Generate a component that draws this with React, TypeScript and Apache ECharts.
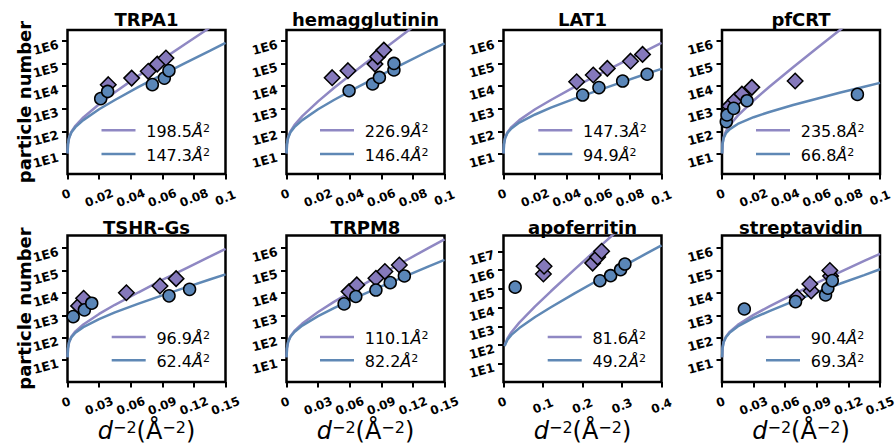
import React, { useEffect, useRef } from 'react';
import * as echarts from 'echarts';

// ---------- data (y values are log10(particle number)) ----------
const panelTitles = ['TRPA1', 'hemagglutinin', 'LAT1', 'pfCRT', 'TSHR-Gs', 'TRPM8', 'apoferritin', 'streptavidin'];
const purpleB = ['198.5', '226.9', '147.3', '235.8', '96.9', '110.1', '81.6', '90.4'];
const blueB = ['147.3', '146.4', '94.9', '66.8', '62.4', '82.2', '49.2', '69.3'];

const xTicks01 = [0, 0.02, 0.04, 0.06, 0.08, 0.1];
const xTicks015 = [0, 0.03, 0.06, 0.09, 0.12, 0.15];
const xTicks04 = [0, 0.1, 0.2, 0.3, 0.4];
const yTicks6 = [1, 2, 3, 4, 5, 6];
const yTicks7 = [1, 2, 3, 4, 5, 6, 7];

// fitted curves, sampled points
const fitX01 = [0.00005, 0.0003, 0.001, 0.0025, 0.005, 0.01, 0.02, 0.03, 0.045, 0.06, 0.075, 0.09, 0.1];
const fitX015 = [0.000075, 0.00045, 0.0015, 0.00375, 0.0075, 0.015, 0.03, 0.045, 0.0675, 0.09, 0.1125, 0.135, 0.15];
const fitX04 = [0.003, 0.004, 0.01, 0.02, 0.04, 0.08, 0.12, 0.18, 0.24, 0.3, 0.36, 0.4];

const trpa1Purple = [1.03, 1.43, 1.72, 1.99, 2.25, 2.62, 3.2, 3.73, 4.47, 5.19, 5.89, 6.59, 7.05];
const trpa1Blue = [1.03, 1.43, 1.71, 1.96, 2.19, 2.5, 2.98, 3.39, 3.97, 4.51, 5.05, 5.57, 5.92];
const hemaPurple = [1.03, 1.43, 1.73, 2.0, 2.28, 2.68, 3.33, 3.92, 4.75, 5.56, 6.36, 7.15, 7.67];
const hemaBlue = [1.03, 1.43, 1.71, 1.96, 2.19, 2.5, 2.98, 3.39, 3.96, 4.5, 5.03, 5.56, 5.9];
const lat1Purple = [1.03, 1.43, 1.71, 1.96, 2.19, 2.5, 2.98, 3.39, 3.97, 4.51, 5.05, 5.57, 5.92];
const lat1Blue = [1.03, 1.43, 1.7, 1.93, 2.13, 2.39, 2.75, 3.05, 3.45, 3.82, 4.18, 4.54, 4.77];
const pfcrtPurple = [1.03, 1.44, 1.73, 2.01, 2.29, 2.7, 3.37, 3.98, 4.84, 5.68, 6.51, 7.33, 7.87];
const pfcrtBlue = [1.03, 1.42, 1.7, 1.92, 2.1, 2.33, 2.63, 2.86, 3.17, 3.45, 3.72, 3.98, 4.15];
const tshrPurple = [1.12, 1.52, 1.8, 2.05, 2.28, 2.59, 3.06, 3.47, 4.03, 4.58, 5.1, 5.62, 5.97];
const tshrBlue = [1.12, 1.51, 1.79, 2.02, 2.22, 2.47, 2.83, 3.13, 3.52, 3.89, 4.25, 4.6, 4.83];
const trpm8Purple = [1.12, 1.52, 1.8, 2.06, 2.3, 2.63, 3.15, 3.6, 4.23, 4.84, 5.43, 6.02, 6.4];
const trpm8Blue = [1.12, 1.52, 1.8, 2.04, 2.25, 2.54, 2.96, 3.32, 3.82, 4.29, 4.74, 5.19, 5.48];
const apoPurple = [1.97, 2.05, 2.36, 2.69, 3.2, 4.07, 4.87, 6.04, 7.18, 8.31, 9.42, 10.16];
const apoBlue = [1.95, 2.02, 2.29, 2.55, 2.91, 3.5, 4.02, 4.76, 5.47, 6.17, 6.86, 7.31];
const strepPurple = [1.12, 1.52, 1.8, 2.04, 2.27, 2.57, 3.02, 3.4, 3.94, 4.45, 4.94, 5.43, 5.75];
const strepBlue = [1.12, 1.51, 1.79, 2.02, 2.23, 2.5, 2.88, 3.19, 3.62, 4.03, 4.42, 4.8, 5.06];

// measured points [d^-2, log10 N]
const trpa1Diamonds = [[0.0258, 4.07], [0.0406, 4.36], [0.0511, 4.66], [0.0568, 4.98], [0.0623, 5.25]];
const trpa1Circles = [[0.021, 3.45], [0.0254, 3.77], [0.0537, 4.07], [0.0613, 4.36], [0.0642, 4.69]];
const hemaDiamonds = [[0.0289, 4.38], [0.0389, 4.69], [0.056, 4.98], [0.0577, 5.31], [0.0616, 5.6]];
const hemaCircles = [[0.0396, 3.8], [0.0545, 4.1], [0.0588, 4.39], [0.068, 4.72], [0.068, 5.01]];
const lat1Diamonds = [[0.0463, 4.2], [0.0568, 4.5], [0.0657, 4.79], [0.0804, 5.11], [0.088, 5.41]];
const lat1Circles = [[0.0501, 3.61], [0.0604, 3.94], [0.0754, 4.23], [0.0909, 4.53]];
const pfcrtDiamonds = [[0.0048, 3.12], [0.0084, 3.39], [0.0126, 3.65], [0.0189, 3.95], [0.0463, 4.23]];
const pfcrtCircles = [[0.0027, 2.43], [0.0032, 2.73], [0.0074, 3.02], [0.0158, 3.36], [0.0857, 3.64]];
const tshrDiamonds = [[0.0105, 3.42], [0.0153, 3.76], [0.0559, 4.01], [0.0878, 4.31], [0.1031, 4.64]];
const tshrCircles = [[0.0054, 2.94], [0.016, 3.24], [0.023, 3.54], [0.0964, 3.87], [0.1159, 4.16]];
const trpm8Diamonds = [[0.0594, 4.06], [0.0667, 4.36], [0.0849, 4.66], [0.0934, 4.96], [0.1071, 5.25]];
const trpm8Circles = [[0.0547, 3.51], [0.0658, 3.84], [0.0849, 4.13], [0.0985, 4.46], [0.1119, 4.76]];
const apoDiamonds = [[0.101, 5.79], [0.1027, 6.2], [0.2257, 6.37], [0.2383, 6.69], [0.2484, 7.0]];
const apoCircles = [[0.0295, 5.09], [0.2442, 5.43], [0.2712, 5.7], [0.2964, 6.02], [0.3074, 6.32]];
const strepDiamonds = [[0.0714, 3.81], [0.0847, 4.09], [0.0834, 4.4], [0.1031, 4.76], [0.1024, 5.0]];
const strepCircles = [[0.0212, 3.28], [0.0698, 3.61], [0.0983, 3.91], [0.1005, 4.21], [0.1047, 4.55]];

// y-axis ranges (log10 units)
const yRangeRow1 = [0.115, 6.49];
const yRangeRow2 = [0.015, 6.57];
const yRangeApo = [0.04, 7.84];

// ---------- layout / style ----------
const FONT = '"DejaVu Sans", sans-serif';
const PURPLE_LINE = '#8f88c3';
const BLUE_LINE = '#5f88b5';
const PURPLE_MARK = '#8579bb';
const BLUE_MARK = '#5a86b8';
const colLeft = [67.5, 286.5, 503.5, 722];
const rowTop = [30, 235.5];
const rowH = [144, 146.5];
const plotW = 158;
const legendStart = [101.5, 320, 538.3, 756, 111.7, 320, 547.7, 766];
const legendRowY = [[130.3, 154], [337, 360.3]];
const titleY = [19, 227];

const panels = [
  { diamonds: trpa1Diamonds, circles: trpa1Circles, purple: trpa1Purple, blue: trpa1Blue, fitX: fitX01, xTicks: xTicks01, yTicks: yTicks6, yRange: yRangeRow1 },
  { diamonds: hemaDiamonds, circles: hemaCircles, purple: hemaPurple, blue: hemaBlue, fitX: fitX01, xTicks: xTicks01, yTicks: yTicks6, yRange: yRangeRow1 },
  { diamonds: lat1Diamonds, circles: lat1Circles, purple: lat1Purple, blue: lat1Blue, fitX: fitX01, xTicks: xTicks01, yTicks: yTicks6, yRange: yRangeRow1 },
  { diamonds: pfcrtDiamonds, circles: pfcrtCircles, purple: pfcrtPurple, blue: pfcrtBlue, fitX: fitX01, xTicks: xTicks01, yTicks: yTicks6, yRange: yRangeRow1 },
  { diamonds: tshrDiamonds, circles: tshrCircles, purple: tshrPurple, blue: tshrBlue, fitX: fitX015, xTicks: xTicks015, yTicks: yTicks6, yRange: yRangeRow2 },
  { diamonds: trpm8Diamonds, circles: trpm8Circles, purple: trpm8Purple, blue: trpm8Blue, fitX: fitX015, xTicks: xTicks015, yTicks: yTicks6, yRange: yRangeRow2 },
  { diamonds: apoDiamonds, circles: apoCircles, purple: apoPurple, blue: apoBlue, fitX: fitX04, xTicks: xTicks04, yTicks: yTicks7, yRange: yRangeApo },
  { diamonds: strepDiamonds, circles: strepCircles, purple: strepPurple, blue: strepBlue, fitX: fitX015, xTicks: xTicks015, yTicks: yTicks6, yRange: yRangeRow2 },
];

function buildOption() {
  const lab = { fontFamily: FONT, fontSize: 12, fontWeight: 'bold', color: '#000' };
  const grids: any[] = [];
  const xAxes: any[] = [];
  const yAxes: any[] = [];
  const series: any[] = [];
  const elements: any[] = [];

  panels.forEach((p, i) => {
    const col = i % 4;
    const row = Math.floor(i / 4);
    const left = colLeft[col];
    const top = rowTop[row];
    const h = rowH[row];
    grids.push({
      left, top, width: plotW, height: h, show: true,
      borderColor: '#000', borderWidth: 2.5, backgroundColor: 'transparent',
      containLabel: false, outerBoundsMode: 'none',
    });
    xAxes.push({
      gridIndex: i, type: 'value', min: 0, max: p.xTicks[p.xTicks.length - 1],
      axisLine: { show: false },
      splitLine: { show: false },
      axisTick: { show: true, customValues: p.xTicks, length: 5.5, lineStyle: { color: '#000', width: 2 } },
      axisLabel: {
        customValues: p.xTicks,
        interval: 0,
        showMinLabel: true, showMaxLabel: true, hideOverlap: false,
        formatter: (v: number) => (v === 0 ? '{z|0}' : '{t|' + v + '}'),
        rotate: 22, align: 'center', verticalAlign: 'middle', margin: 24,
        rich: { z: { ...lab, padding: [0, 0, 8, 0] }, t: { ...lab } },
      },
    });
    yAxes.push({
      gridIndex: i, type: 'value', min: p.yRange[0], max: p.yRange[1],
      axisLine: { show: false },
      splitLine: { show: false },
      axisTick: { show: true, customValues: p.yTicks, length: 5.5, lineStyle: { color: '#000', width: 2 } },
      axisLabel: {
        customValues: p.yTicks,
        interval: 0,
        showMinLabel: true, showMaxLabel: true, hideOverlap: false,
        formatter: (v: number) => '{y|1E' + v + '}',
        rotate: 15, margin: 10,
        rich: { y: { ...lab, fontSize: 12.5, padding: [6, 0, 0, 0] } },
      },
    });
    const purpleData = p.fitX.map((x, k) => [x, p.purple[k]]);
    const blueData = p.fitX.map((x, k) => [x, p.blue[k]]);
    series.push({
      type: 'line', xAxisIndex: i, yAxisIndex: i, data: purpleData, symbol: 'none', clip: true, z: 2,
      lineStyle: { color: PURPLE_LINE, width: 2.5 }, silent: true,
    });
    series.push({
      type: 'line', xAxisIndex: i, yAxisIndex: i, data: blueData, symbol: 'none', clip: true, z: 2,
      lineStyle: { color: BLUE_LINE, width: 2.5 }, silent: true,
    });
    series.push({
      type: 'scatter', xAxisIndex: i, yAxisIndex: i, data: p.diamonds, symbol: 'diamond', symbolSize: 15.5, z: 3,
      itemStyle: { color: PURPLE_MARK, borderColor: '#000', borderWidth: 1.5, opacity: 1 }, silent: true,
    });
    series.push({
      type: 'scatter', xAxisIndex: i, yAxisIndex: i, data: p.circles, symbol: 'circle', symbolSize: 12, z: 4,
      itemStyle: { color: BLUE_MARK, borderColor: '#000', borderWidth: 1.5, opacity: 1 }, silent: true,
    });

    // title
    elements.push({
      type: 'text', x: left + plotW / 2, y: titleY[row],
      style: { text: panelTitles[i], font: 'bold 18px ' + FONT, fill: '#000', align: 'center', verticalAlign: 'middle' },
    });
    // legend
    const ls = legendStart[i];
    const ly = legendRowY[row];
    const entries = [
      { y: ly[0], color: PURPLE_LINE, b: purpleB[i] },
      { y: ly[1], color: BLUE_LINE, b: blueB[i] },
    ];
    entries.forEach((e) => {
      elements.push({
        type: 'line', shape: { x1: ls, y1: e.y, x2: ls + 34, y2: e.y },
        style: { stroke: e.color, lineWidth: 2.5 },
      });
      elements.push({
        type: 'text', x: ls + 44.7, y: e.y + 1,
        style: {
          text: '{n|' + e.b + '}{a|Å}{s|2}',
          align: 'left', verticalAlign: 'middle', fill: '#000',
          rich: {
            n: { fontFamily: FONT, fontSize: 16, lineHeight: 16, fill: '#000', color: '#000' },
            a: { fontFamily: FONT, fontSize: 16, lineHeight: 16, fontStyle: 'italic', fill: '#000', color: '#000' },
            s: { fontFamily: FONT, fontSize: 11, lineHeight: 11, verticalAlign: 'top', fill: '#000', color: '#000' },
          },
        },
      });
    });
    // x-axis title under bottom row
    if (row === 1) {
      elements.push({
        type: 'text', x: left + plotW / 2, y: 443,
        style: {
          text: '{d|d}{s|−2}{n|(Å}{s|−2}{n|)}',
          align: 'center', verticalAlign: 'bottom', fill: '#000',
          rich: {
            d: { fontFamily: FONT, fontSize: 24, lineHeight: 24, verticalAlign: 'bottom', fontStyle: 'italic', fill: '#000', color: '#000' },
            n: { fontFamily: FONT, fontSize: 24, lineHeight: 24, verticalAlign: 'bottom', fill: '#000', color: '#000' },
            s: { fontFamily: FONT, fontSize: 16, lineHeight: 16, padding: [0, 0, 15, 0], verticalAlign: 'top', fill: '#000', color: '#000' },
          },
        },
      });
    }
  });

  // y-axis titles
  [102, 308.5].forEach((cy) => {
    elements.push({
      type: 'text', x: 24, y: cy, rotation: Math.PI / 2,
      style: { text: 'particle number', font: 'bold 18px ' + FONT, fill: '#000', align: 'center', verticalAlign: 'middle' },
    });
  });

  return {
    animation: false,
    backgroundColor: '#fff',
    grid: grids,
    xAxis: xAxes,
    yAxis: yAxes,
    series,
    graphic: { elements },
  };
}

export default function App() {
  const ref = useRef<HTMLDivElement>(null);
  useEffect(() => {
    if (!ref.current) return;
    const chart = echarts.init(ref.current, null, { renderer: 'svg', width: 895, height: 444 });
    chart.setOption(buildOption() as any);
    return () => chart.dispose();
  }, []);
  return (
    <div
      ref={ref}
      style={{ position: 'fixed', left: 0, top: 0, width: 895, height: 444, background: '#fff' }}
    />
  );
}
